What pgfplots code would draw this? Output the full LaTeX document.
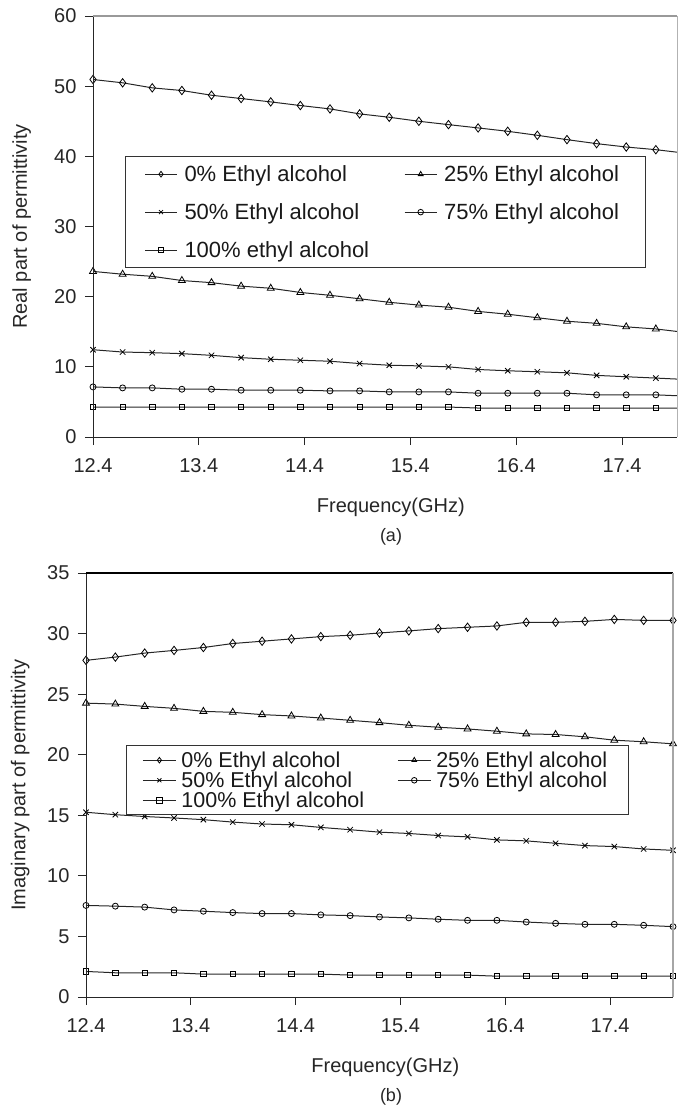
\documentclass[border=0pt]{standalone}
\usepackage{pgfplots}
\usepackage{pgfplotstable}
\pgfplotsset{compat=1.18}
\usepackage{fontspec}
\setmainfont{Liberation Sans}

\pgfplotstableread{
f     r0     r25   r50    r75   r100
12.40 50.95  23.6  12.44  7.14  4.27
12.68 50.48  23.2  12.11  7.00  4.27
12.96 49.76  22.9  12.02  7.00  4.27
13.24 49.38  22.3  11.88  6.81  4.27
13.52 48.71  22.0  11.64  6.81  4.27
13.80 48.24  21.5  11.31  6.67  4.27
14.08 47.76  21.2  11.08  6.67  4.27
14.36 47.24  20.6  10.94  6.67  4.27
14.64 46.76  20.2  10.80  6.57  4.27
14.92 46.05  19.7  10.47  6.57  4.27
15.20 45.57  19.2  10.23  6.43  4.27
15.48 45.00  18.8  10.14  6.43  4.27
15.76 44.52  18.5  10.00  6.43  4.27
16.04 44.05  17.9   9.62  6.24  4.13
16.32 43.57  17.5   9.44  6.24  4.13
16.60 43.00  17.0   9.30  6.24  4.13
16.88 42.38  16.5   9.15  6.24  4.13
17.16 41.81  16.2   8.78  6.01  4.13
17.44 41.33  15.7   8.59  6.01  4.13
17.72 40.95  15.4   8.40  6.01  4.13
18.00 40.45  14.9   8.20  5.83  4.13
}\realtab

\pgfplotstableread{
f     i0     i25    i50    i75   i100
12.40 27.79  24.26  15.25  7.56  2.11
12.68 28.06  24.18  15.05  7.50  2.00
12.96 28.39  23.99  14.90  7.42  2.00
13.24 28.61  23.83  14.78  7.19  2.00
13.52 28.85  23.58  14.64  7.08  1.89
13.80 29.18  23.50  14.44  6.97  1.89
14.08 29.37  23.31  14.28  6.89  1.89
14.36 29.56  23.20  14.22  6.89  1.89
14.64 29.75  23.03  14.00  6.78  1.89
14.92 29.86  22.84  13.81  6.72  1.81
15.20 30.05  22.65  13.61  6.61  1.81
15.48 30.22  22.43  13.50  6.53  1.81
15.76 30.41  22.27  13.33  6.42  1.81
16.04 30.52  22.13  13.22  6.33  1.81
16.32 30.63  21.94  12.97  6.33  1.72
16.60 30.93  21.72  12.89  6.19  1.72
16.88 30.93  21.67  12.69  6.08  1.72
17.16 31.01  21.48  12.50  6.00  1.72
17.44 31.17  21.20  12.42  6.00  1.72
17.72 31.09  21.07  12.22  5.92  1.72
18.00 31.09  20.90  12.11  5.81  1.72
}\imagtab

\pgfplotsset{
  myplot/.style={line width=1pt, draw=black!85,
      mark options={fill=white, draw=black, solid, line width=0.8pt}},
  myax/.style={
    scale only axis,
    axis line style={draw=none},
    tick align=outside,
    xtick pos=left, ytick pos=left,
    major tick length=8pt,
    tick style={black!85, line width=0.9pt},
    xtick={12.4,13.4,14.4,15.4,16.4,17.4},
    xticklabels={12.4,13.4,14.4,15.4,16.4,17.4},
    /pgf/number format/assume math mode=true,
    tick label style={font=\fontsize{20}{24}\selectfont, text=black!85},
    xticklabel style={yshift=-10pt},
    yticklabel style={xshift=-5pt},
    label style={font=\fontsize{20}{24}\selectfont, text=black!85},
    legend columns=2,
    legend cell align=left,
  }
}

\begin{document}
\begin{tikzpicture}[x=1pt,y=1pt]
\useasboundingbox (0,0) rectangle (681,-1120);

% ---------------- panel (a)
\begin{axis}[myax, name=a,
  at={(93pt,-437pt)}, anchor=south west,
  width=584pt, height=421pt,
  xmin=12.4, xmax=17.92, ymin=0, ymax=60,
  ytick={0,10,...,60},
  xlabel={Frequency(GHz)},
  ylabel={Real part of permittivity},
  xlabel style={at={(axis description cs:0.51,-0.166)}, anchor=center},
  ylabel style={at={(axis description cs:-0.122,0.5)}, anchor=center},
  legend image code/.code={%
      \draw[mark repeat=2, mark phase=2, #1, mark size=2.8pt]
        plot coordinates {(0pt,0pt) (16pt,0pt) (32pt,0pt)};},
  legend style={at={(axis description cs:0.0548,0.6675)}, anchor=north west,
    draw=black!80, line width=1pt, fill=white,
    font=\fontsize{22}{24}\selectfont,
    nodes={inner xsep=7pt, inner ysep=0pt, text=black!90},
    inner xsep=19pt, inner ysep=9pt, row sep=20.5pt,
    /tikz/every even column/.append style={column sep=28pt}},
]
\addplot[myplot, mark=diamond, mark size=4.2pt] table[x=f,y=r0] {\realtab};
\addlegendentry{0\% Ethyl alcohol}
\addplot[myplot, mark=triangle, mark size=4pt] table[x=f,y=r25] {\realtab};
\addlegendentry{25\% Ethyl alcohol}
\addplot[myplot, mark=x, mark size=3.8pt] table[x=f,y=r50] {\realtab};
\addlegendentry{50\% Ethyl alcohol}
\addplot[myplot, mark=o, mark size=3pt] table[x=f,y=r75] {\realtab};
\addlegendentry{75\% Ethyl alcohol}
\addplot[myplot, mark=square, mark size=2.7pt] table[x=f,y=r100] {\realtab};
\addlegendentry{100\% ethyl alcohol}
\end{axis}
\draw[black!85, line width=1pt] (a.north west) -- (a.south west) -- (a.south east);
\draw[black!40, line width=2pt] (a.north west) -- (a.north east);
\draw[black!30, line width=1pt] (a.north east) -- (a.south east);
\node[font=\fontsize{18}{22}\selectfont, text=black!85] at (391pt,-537pt) {(a)};

% ---------------- panel (b)
\begin{axis}[myax, name=b,
  at={(86pt,-997pt)}, anchor=south west,
  width=587pt, height=424pt,
  xmin=12.4, xmax=18.0, ymin=0, ymax=35,
  ytick={0,5,...,35},
  xlabel={Frequency(GHz)},
  ylabel={Imaginary part of permittivity},
  xlabel style={at={(axis description cs:0.51,-0.165)}, anchor=center},
  ylabel style={at={(axis description cs:-0.112,0.5)}, anchor=center},
  legend image code/.code={%
      \draw[mark repeat=2, mark phase=2, #1, mark size=2.8pt]
        plot coordinates {(0pt,0pt) (16.5pt,0pt) (33pt,0pt)};},
  legend style={at={(axis description cs:0.068,0.594)}, anchor=north west,
    draw=black!80, line width=1pt, fill=white,
    font=\fontsize{21.5}{24}\selectfont,
    nodes={inner xsep=5pt, inner ysep=0pt, text=black!90},
    inner xsep=16pt, inner ysep=6pt, row sep=3pt,
    /tikz/every even column/.append style={column sep=28pt}},
]
\addplot[myplot, mark=diamond, mark size=4.2pt] table[x=f,y=i0] {\imagtab};
\addlegendentry{0\% Ethyl alcohol}
\addplot[myplot, mark=triangle, mark size=4pt] table[x=f,y=i25] {\imagtab};
\addlegendentry{25\% Ethyl alcohol}
\addplot[myplot, mark=x, mark size=3.8pt] table[x=f,y=i50] {\imagtab};
\addlegendentry{50\% Ethyl alcohol}
\addplot[myplot, mark=o, mark size=3pt] table[x=f,y=i75] {\imagtab};
\addlegendentry{75\% Ethyl alcohol}
\addplot[myplot, mark=square, mark size=2.7pt] table[x=f,y=i100] {\imagtab};
\addlegendentry{100\% Ethyl alcohol}
\end{axis}
\draw[black!85, line width=1pt] (b.north west) -- (b.south west) -- (b.south east);
\draw[black, line width=2pt] (b.north west) -- (b.north east);
\draw[black!35, line width=1.5pt] (b.north east) -- (b.south east);
\node[font=\fontsize{18}{22}\selectfont, text=black!85] at (391pt,-1097pt) {(b)};
\end{tikzpicture}
\end{document}
